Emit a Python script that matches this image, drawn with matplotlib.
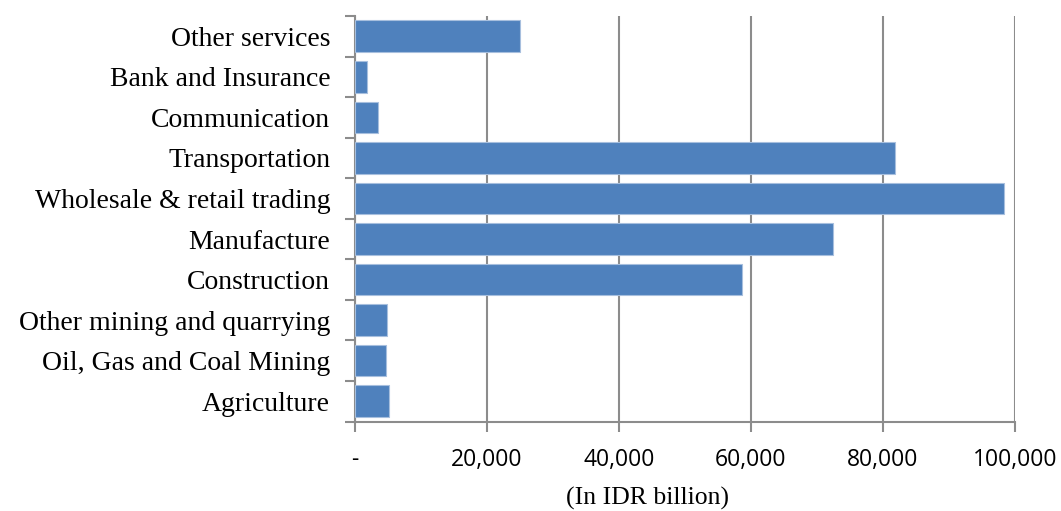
import matplotlib
matplotlib.use("Agg")
import matplotlib.pyplot as plt
from matplotlib.ticker import FixedLocator, FuncFormatter

categories = [
    "Agriculture",
    "Oil, Gas and Coal Mining",
    "Other mining and quarrying",
    "Construction",
    "Manufacture",
    "Wholesale & retail trading",
    "Transportation",
    "Communication",
    "Bank and Insurance",
    "Other services",
]
values = [5270, 4770, 4870, 58600, 72400, 98300, 81800, 3550, 1850, 25100]
x_ticks = [0, 20000, 40000, 60000, 80000, 100000]
x_label = "(In IDR billion)"

W, H, DPI = 1061, 511, 100
fig = plt.figure(figsize=(W / DPI, H / DPI), dpi=DPI)
left, right, top, bottom = 354.5, 1015, 16, 421.5
ax = fig.add_axes([left / W, 1 - bottom / H, (right - left) / W, (bottom - top) / H])

grid_col = "#8c8c8c"
ypos = list(range(len(categories)))
ax.barh(ypos, values, height=0.78, color="#4f81bd", edgecolor="#a7bfde",
        linewidth=0.8, zorder=3)

ax.set_xlim(0, 100000)
ax.set_ylim(-0.5, len(categories) - 0.5)

ax.xaxis.set_major_locator(FixedLocator(x_ticks))
ax.xaxis.set_major_formatter(FuncFormatter(lambda v, p: "-" if v == 0 else f"{int(v):,}"))
ax.grid(axis="x", color=grid_col, linewidth=1.5, zorder=0)

# category labels centred in each band, ticks on band boundaries
ax.set_yticks(ypos)
ax.set_yticklabels(categories, family="Liberation Serif", fontsize=20)
ax.set_yticks([i - 0.5 for i in range(len(categories) + 1)], minor=True)
ax.tick_params(axis="y", which="major", length=0, pad=17.5)
ax.tick_params(axis="y", which="minor", length=7, width=1.5, color=grid_col, direction="out")
ax.tick_params(axis="x", length=7, width=1.5, color=grid_col, direction="out", pad=12,
               labelsize=16.5)
for lab in ax.get_xticklabels():
    lab.set_family("Open Sans")

for s in ["top", "right"]:
    ax.spines[s].set_visible(False)
for s in ["left", "bottom"]:
    ax.spines[s].set_color(grid_col)
    ax.spines[s].set_linewidth(1.5)

# axis title sits below the tick labels, a little left of the plot centre
fig.text(648 / W, 1 - 505 / H, x_label, family="Liberation Serif", fontsize=18.5,
         ha="center", va="baseline")

fig.savefig("out.png", dpi=DPI)
